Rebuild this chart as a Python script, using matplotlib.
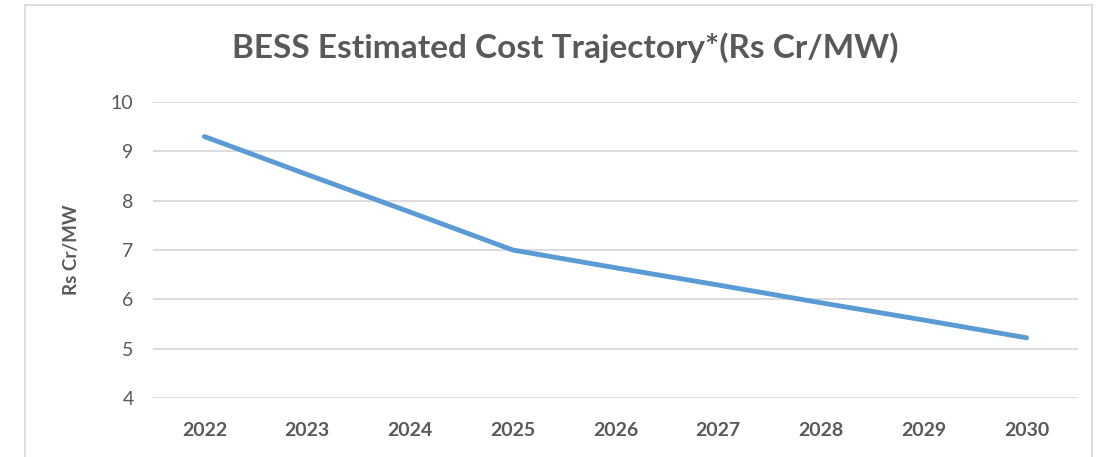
import matplotlib
matplotlib.use("Agg")
import matplotlib.pyplot as plt
from matplotlib.lines import Line2D

years = ["2022", "2023", "2024", "2025", "2026", "2027", "2028", "2029", "2030"]
cost = [9.3, 8.53, 7.77, 7.0, 6.64, 6.29, 5.93, 5.58, 5.22]
y_ticks = [4, 5, 6, 7, 8, 9, 10]

plt.rcParams['font.family'] = ['Lato', 'DejaVu Sans']
W, H = 1107, 457
fig = plt.figure(figsize=(W/100, H/100), dpi=100)
fig.patch.set_facecolor('white')

ax = fig.add_axes([153/W, 1-398/H, (1078-153)/W, (398-102)/H])
x = list(range(len(years)))
ax.plot(x, cost, color='#5B9BD5', lw=3.5, solid_capstyle='round', zorder=3)
ax.set_xlim(-0.5, len(years)-0.5)
ax.set_ylim(4, 10)
ax.set_yticks(y_ticks)
ax.set_xticks(x)
ax.set_xticklabels(years)
ax.grid(axis='y', color='#D9D9D9', lw=1.3)
ax.set_axisbelow(True)
for s in ax.spines.values():
    s.set_visible(False)
ax.tick_params(axis='both', length=0, colors='#595959', labelsize=14)
ax.tick_params(axis='x', pad=17)
ax.tick_params(axis='y', pad=14)
for lbl in ax.get_xticklabels():
    lbl.set_fontweight('bold')
ax.set_ylabel('Rs Cr/MW', color='#595959', fontsize=13.5, fontweight='bold', labelpad=22)

fig.text(565/W, 1-48/H, 'BESS Estimated Cost Trajectory*(Rs Cr/MW)', ha='center', va='center',
         fontsize=24, fontweight='bold', color='#595959')

# chart border
bc = '#D9D9D9'
fig.add_artist(Line2D([25/W, 25/W], [0, 1-5/H], color=bc, lw=1.2, transform=fig.transFigure))
fig.add_artist(Line2D([25/W, 1092/W], [1-5/H, 1-5/H], color=bc, lw=1.2, transform=fig.transFigure))
fig.add_artist(Line2D([1092/W, 1092/W], [0, 1-5/H], color=bc, lw=1.2, transform=fig.transFigure))

fig.savefig('out.png', dpi=100)
